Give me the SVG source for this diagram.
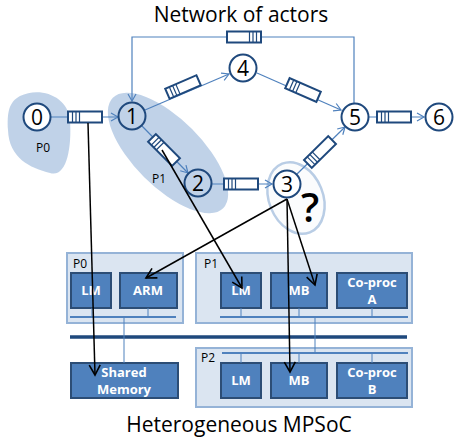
<svg xmlns="http://www.w3.org/2000/svg" width="457" height="438" viewBox="0 0 457 438">
<style>
text{font-family:"Open Sans","DejaVu Sans",sans-serif;}
.title{font-size:21px;fill:#000;text-anchor:middle;}
.node circle{fill:#fff;stroke:#1f497d;stroke-width:2;}
.node text{font-size:21px;fill:#000;text-anchor:middle;}
.edge{fill:none;stroke:#4f81bd;stroke-width:1.2;}
.map{fill:none;stroke:#000;stroke-width:1.5;}
.lbl{font-size:12px;fill:#000;}
.pe{fill:#dbe5f1;stroke:#95b3d7;stroke-width:2;}
.unit{fill:#4f81bd;stroke:#2c4d75;stroke-width:2;}
.ut{font-size:13px;font-weight:bold;fill:#fff;text-anchor:middle;}
.bus{stroke:#4f81bd;stroke-width:2;fill:none;}
.stub{stroke:#4f81bd;stroke-width:1;fill:none;}
</style>
<defs>
<marker id="ah" markerWidth="10" markerHeight="10" refX="8" refY="5" orient="auto" markerUnits="userSpaceOnUse">
<path d="M1,1 L8,5 L1,9" fill="none" stroke="#4f81bd" stroke-width="1.2"/>
</marker>
<marker id="bh" markerWidth="14" markerHeight="14" refX="11" refY="7" orient="auto" markerUnits="userSpaceOnUse">
<path d="M1,1.5 L11,7 L1,12.5" fill="none" stroke="#000" stroke-width="1.6"/>
</marker>
<g id="buf">
<rect x="-17" y="-5.5" width="34" height="11" fill="#fff" stroke="#1f497d" stroke-width="2"/>
<path d="M-12.5,-5.5v11M-9,-5.5v11M-5.5,-5.5v11" stroke="#1f497d" stroke-width="1.2"/>
</g>
</defs>

<text class="title" x="241" y="22">Network of actors</text>

<g id="mappings-bg">
<path d="M20,96 C40,86 68,96 70,120 C72,150 66,178 50,173 C30,168 9,158 8,130 C7,112 9,102 20,96 Z" fill="#b9cde5" opacity="0.9"/>
<ellipse cx="168" cy="153" rx="78" ry="34" transform="rotate(45 168 153)" fill="#b9cde5" opacity="0.9"/>
<ellipse cx="296" cy="198" rx="27" ry="37" transform="rotate(-22 296 198)" fill="#f4f7fb" fill-opacity="0.4" stroke="#b9cde5" stroke-width="2.5"/>
<text class="lbl" x="36" y="152">P0</text>
<text class="lbl" x="152" y="183">P1</text>
</g>

<g id="connectors">
<path class="edge" d="M51,117 L118,117" marker-end="url(#ah)"/>
<path class="edge" d="M145,110 L229,74" marker-end="url(#ah)"/>
<path class="edge" d="M257,73 L341,110" marker-end="url(#ah)"/>
<path class="edge" d="M369,117 L424,117" marker-end="url(#ah)"/>
<path class="edge" d="M142,126 L188,173" marker-end="url(#ah)"/>
<path class="edge" d="M212,184 L272,184" marker-end="url(#ah)"/>
<path class="edge" d="M297,174 L345,127" marker-end="url(#ah)"/>
<path class="edge" d="M354,103 L354,37 L132,37 L132,101" marker-end="url(#ah)"/>
<use href="#buf" transform="translate(85,117)"/>
<use href="#buf" transform="translate(244,37) rotate(180)"/>
<use href="#buf" transform="translate(183,87) rotate(-23.4)"/>
<use href="#buf" transform="translate(303,90) rotate(23.6)"/>
<use href="#buf" transform="translate(394,117)"/>
<use href="#buf" transform="translate(164,150) rotate(45)"/>
<use href="#buf" transform="translate(241,184)"/>
<use href="#buf" transform="translate(320,152) rotate(-44.6)"/>
</g>

<g id="n0" class="node"><circle cx="37" cy="117" r="13.5"/><text x="37" y="124.5">0</text></g>
<g id="n1" class="node"><circle cx="132" cy="116" r="13.5" style="fill:none"/><text x="132" y="123.5">1</text></g>
<g id="n2" class="node"><circle cx="198" cy="183" r="13.5" style="fill:none"/><text x="198" y="190.5">2</text></g>
<g id="n3" class="node"><circle cx="287" cy="184" r="13.5"/><text x="287" y="191.5">3</text></g>
<g id="n4" class="node"><circle cx="243" cy="68" r="13.5"/><text x="243" y="75.5">4</text></g>
<g id="n5" class="node"><circle cx="355" cy="117" r="13.5"/><text x="355" y="124.5">5</text></g>
<g id="n6" class="node"><circle cx="439" cy="117" r="13.5"/><text x="439" y="124.5">6</text></g>

<text x="301" y="222" style="font-size:40px;font-weight:600;fill:#000">?</text>

<g id="P0">
<rect class="pe" x="67" y="253" width="116" height="70"/>
<text class="lbl" x="73" y="268">P0</text>
<rect class="unit" x="71" y="273" width="40" height="35"/>
<text class="ut" x="91" y="295">LM</text>
<rect class="unit" x="120" y="273" width="57" height="35"/>
<text class="ut" x="148" y="295">ARM</text>
<path class="bus" d="M70,317 H176"/>
<path class="stub" d="M92,308 V317 M148,308 V317"/>
</g>

<g id="P1">
<rect class="pe" x="196" y="253" width="216" height="70"/>
<text class="lbl" x="204" y="268">P1</text>
<rect class="unit" x="221" y="273" width="40" height="35"/>
<text class="ut" x="241" y="295">LM</text>
<rect class="unit" x="271" y="273" width="56" height="35"/>
<text class="ut" x="299" y="295">MB</text>
<rect class="unit" x="337" y="273" width="70" height="35"/>
<text class="ut" x="372" y="287">Co-proc</text>
<text class="ut" x="372" y="304">A</text>
<path class="bus" d="M220,317 H408"/>
<path class="stub" d="M241,308 V317 M299,308 V317 M372,308 V317"/>
</g>

<g id="P2">
<rect class="pe" x="196" y="348" width="216" height="59"/>
<text class="lbl" x="201" y="362">P2</text>
<rect class="unit" x="221" y="363" width="40" height="35"/>
<text class="ut" x="241" y="385">LM</text>
<rect class="unit" x="271" y="363" width="56" height="35"/>
<text class="ut" x="299" y="385">MB</text>
<rect class="unit" x="337" y="363" width="70" height="35"/>
<text class="ut" x="372" y="377">Co-proc</text>
<text class="ut" x="372" y="394">B</text>
<path class="bus" d="M222,353 H408"/>
<path class="stub" d="M241,353 V363 M299,353 V363 M372,353 V363"/>
</g>

<g id="SharedMemory">
<rect class="unit" x="71" y="363" width="107" height="35"/>
<text class="ut" x="124" y="377">Shared</text>
<text class="ut" x="124" y="394">Memory</text>
</g>

<g id="interconnect">
<path d="M70,337 H407" stroke="#1f497d" stroke-width="3.5"/>
<path class="stub" d="M124,317 V363" stroke="#7ea6d4"/>
<path class="stub" d="M315,317 V353" stroke="#7ea6d4"/>
</g>

<g id="mapping-arrows">
<path class="map" d="M88,123 L95,375" marker-end="url(#bh)"/>
<path class="map" d="M162,150 L242,288" marker-end="url(#bh)"/>
<path class="map" d="M287,199 L146,278" marker-end="url(#bh)"/>
<path class="map" d="M287,199 L315,285" marker-end="url(#bh)"/>
<path class="map" d="M287,199 L290,372" marker-end="url(#bh)"/>
</g>

<text class="title" x="239" y="432">Heterogeneous MPSoC</text>
</svg>
